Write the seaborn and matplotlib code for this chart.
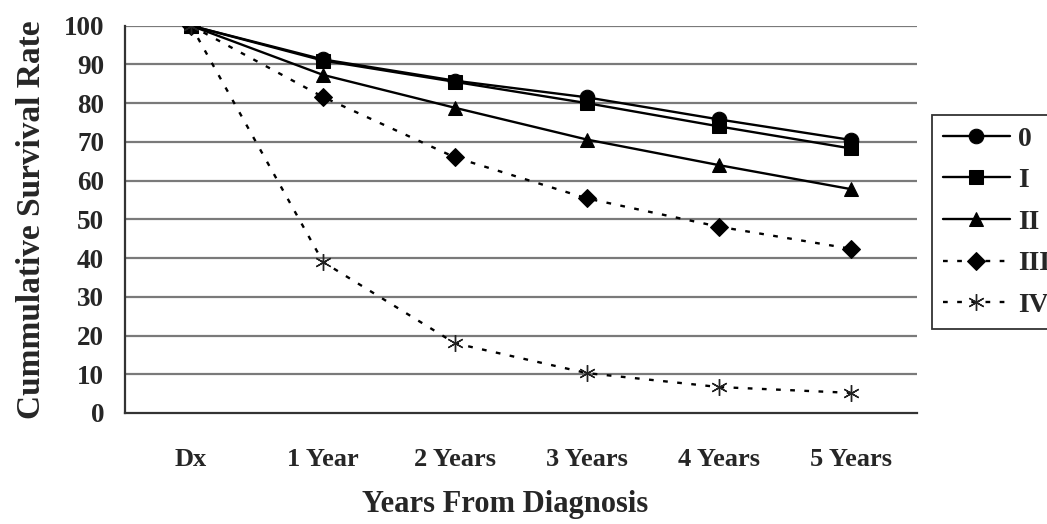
import numpy as np
import pandas as pd
import seaborn as sns
import matplotlib.pyplot as plt
from matplotlib.ticker import FixedLocator

# data
periods = ["Dx", "1 Year", "2 Years", "3 Years", "4 Years", "5 Years"]
stage_0 = [100, 91.3, 85.8, 81.5, 75.8, 70.5]
stage_I = [100, 91.0, 85.5, 80.0, 74.0, 68.3]
stage_II = [100, 87.3, 78.8, 70.6, 64.0, 57.8]
stage_III = [100, 81.6, 66.0, 55.4, 48.1, 42.4]
stage_IV = [100, 39.0, 18.0, 10.3, 6.7, 5.2]
stages = ["0", "I", "II", "III", "IV"]

rows = []
for name, vals in zip(stages, [stage_0, stage_I, stage_II, stage_III, stage_IV]):
    for i, v in enumerate(vals):
        rows.append({"pos": i, "rate": v, "stage": name})
df = pd.DataFrame(rows)

sns.set_style("white")
plt.rcParams['font.family'] = ['Liberation Serif', 'DejaVu Serif']
plt.rcParams['font.weight'] = 'bold'

fig = plt.figure(figsize=(10.47, 5.24), dpi=100)
ax = fig.add_axes([125/1047, 1 - 413/524, (917-125)/1047, (413-25.7)/524])

# grid lines behind the data
for y in range(10, 101, 10):
    ax.axhline(y, color='#7a7a7a', lw=1.6, zorder=0)

# seaborn refuses to mix filled / line markers, so IV gets a placeholder
markers = {"0": "o", "I": "s", "II": "^", "III": "D", "IV": "X"}
sizes = {"0": 10.5, "I": 9.5, "II": 10.5, "III": 9, "IV": 12}
dashes = {"0": "", "I": "", "II": "", "III": (2, 4), "IV": (2, 4)}
palette = {s: "black" for s in stages}

sns.lineplot(data=df, x="pos", y="rate", hue="stage", style="stage",
             palette=palette, markers=markers, dashes=dashes,
             linewidth=1.7, markersize=10, ax=ax, legend=True)

def style_marker(line, s):
    line.set_markersize(sizes[s])
    line.set_markeredgecolor('black')
    line.set_markerfacecolor('black')
    if s == "IV":
        line.set_marker((6, 2, 0))
        line.set_markeredgewidth(1.0)
        line.set_markeredgecolor('#222222')

# the data lines are the ones holding 6 points
data_lines = [l for l in ax.lines if len(l.get_xdata()) == len(periods)]
for line, s in zip(data_lines, stages):
    style_marker(line, s)

ax.set_xlim(-0.5, 5.5)
ax.set_ylim(0, 100)
ax.set_yticks(range(0, 101, 10))
ax.set_xticks(range(len(periods)))
ax.set_xticklabels(periods, fontsize=19, fontweight='bold')
ax.xaxis.set_minor_locator(FixedLocator(np.arange(-0.5, 6, 1)))
ax.tick_params(axis='x', which='major', length=0, pad=25)
ax.tick_params(axis='x', which='minor', length=7, width=1.3, direction='out', color='#333333')
ax.tick_params(axis='y', length=9, width=1.3, direction='out', labelsize=19.5, pad=6, color='#333333')
for lbl in ax.get_yticklabels():
    lbl.set_fontweight('bold')

for side in ['top', 'right']:
    ax.spines[side].set_visible(False)
for side in ['left', 'bottom']:
    ax.spines[side].set_color('#333333')
    ax.spines[side].set_linewidth(1.6)

ax.set_xlabel("Years From Diagnosis", fontsize=22, fontweight='bold', labelpad=14)
ax.xaxis.label.set_x(0.48)
ax.set_ylabel("Cummulative Survival Rate", fontsize=24, fontweight='bold', labelpad=12)

handles, labels = ax.get_legend_handles_labels()
ax.legend_.remove()
for h, s in zip(handles, labels):
    style_marker(h, s)
leg = fig.legend(handles, labels, loc='upper left', bbox_to_anchor=(932/1047, 1 - 115/524),
                 frameon=True, fancybox=False, edgecolor='black', fontsize=20,
                 handlelength=2.4, labelspacing=0.58, borderpad=0.4, handletextpad=0.3,
                 borderaxespad=0)
leg.get_frame().set_linewidth(1.3)
for t in leg.get_texts():
    t.set_fontweight('bold')

fig.savefig("out.png", dpi=100)
